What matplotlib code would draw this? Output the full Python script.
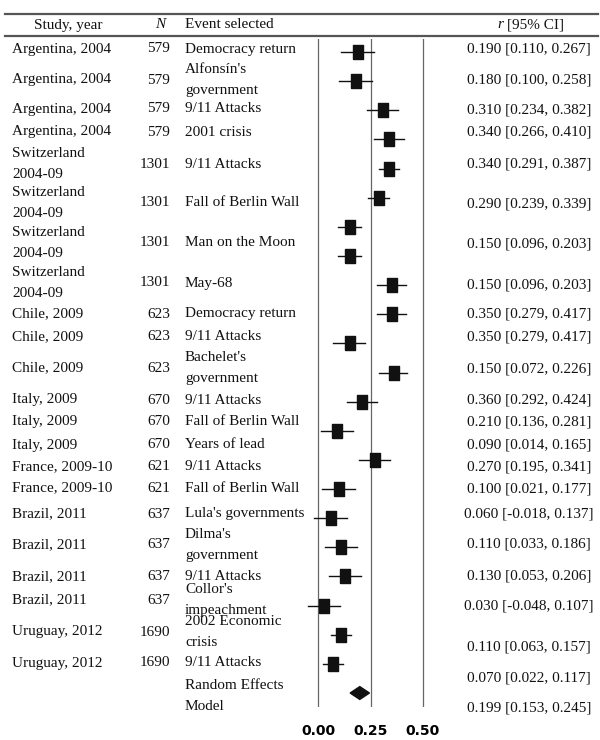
import matplotlib
matplotlib.use("Agg")
import matplotlib.pyplot as plt
from matplotlib.lines import Line2D
from matplotlib.patches import Polygon

studies = ["Argentina, 2004", "Argentina, 2004", "Argentina, 2004", "Argentina, 2004",
           "Switzerland\n2004-09", "Switzerland\n2004-09", "Switzerland\n2004-09", "Switzerland\n2004-09",
           "Chile, 2009", "Chile, 2009", "Chile, 2009",
           "Italy, 2009", "Italy, 2009", "Italy, 2009",
           "France, 2009-10", "France, 2009-10",
           "Brazil, 2011", "Brazil, 2011", "Brazil, 2011", "Brazil, 2011",
           "Uruguay, 2012", "Uruguay, 2012"]
n_size = [579, 579, 579, 579, 1301, 1301, 1301, 1301, 623, 623, 623,
          670, 670, 670, 621, 621, 637, 637, 637, 637, 1690, 1690]
events = ["Democracy return", "Alfonsín's\ngovernment", "9/11 Attacks", "2001 crisis",
          "9/11 Attacks", "Fall of Berlin Wall", "Man on the Moon", "May-68",
          "Democracy return", "9/11 Attacks", "Bachelet's\ngovernment",
          "9/11 Attacks", "Fall of Berlin Wall", "Years of lead",
          "9/11 Attacks", "Fall of Berlin Wall",
          "Lula's governments", "Dilma's\ngovernment", "9/11 Attacks", "Collor's\nimpeachment",
          "2002 Economic\ncrisis", "9/11 Attacks"]
r = [0.190, 0.180, 0.310, 0.340, 0.340, 0.290, 0.150, 0.150, 0.350, 0.350, 0.150,
     0.360, 0.210, 0.090, 0.270, 0.100, 0.060, 0.110, 0.130, 0.030, 0.110, 0.070]
lo = [0.110, 0.100, 0.234, 0.266, 0.291, 0.239, 0.096, 0.096, 0.279, 0.279, 0.072,
      0.292, 0.136, 0.014, 0.195, 0.021, -0.018, 0.033, 0.053, -0.048, 0.063, 0.022]
hi = [0.267, 0.258, 0.382, 0.410, 0.387, 0.339, 0.203, 0.203, 0.417, 0.417, 0.226,
      0.424, 0.281, 0.165, 0.341, 0.177, 0.137, 0.186, 0.206, 0.107, 0.157, 0.117]
re_label = "Random Effects\nModel"
re_r, re_lo, re_hi = 0.199, 0.153, 0.245
ticks = [0.0, 0.25, 0.50]
tick_labels = ["0.00", "0.25", "0.50"]

# pixel layout of the text table (y from top)
left_y = [49, 80, 109, 132, 164, 203, 243, 283, 314, 337, 368, 400, 422, 445, 467, 488,
          514, 545, 577, 600, 632, 663]
re_y = 696
right_y = [49, 80, 110, 132, 164, 204, 244, 285, 314, 337, 369, 400, 422, 445, 467, 489,
           514, 544, 576, 606, 647, 678, 708]

W, H = 600, 740
serif = ["Liberation Serif", "DejaVu Serif"]
fs = 11

fig = plt.figure(figsize=(6, 7.4), dpi=100)


def fx(x):
    return x / W


def fy(y):
    return 1 - y / H


def txt(x, y, s, ha="left", **kw):
    fig.text(fx(x), fy(y), s, ha=ha, va="center", family=serif, fontsize=fs,
             linespacing=1.8, color="#111111", **kw)


# rules
for yy in [14, 36]:
    fig.add_artist(Line2D([fx(5), fx(598)], [fy(yy), fy(yy)], color="#555555", lw=1.6))

# header
txt(68, 25, "Study, year", ha="center")
txt(160, 25, "N", ha="center", style="italic")
txt(185, 25, "Event selected")
txt(503, 25, "r", ha="right", style="italic")
txt(507, 25, "[95% CI]")

for i in range(len(studies)):
    txt(12, left_y[i], studies[i])
    txt(170, left_y[i], str(n_size[i]), ha="right")
    txt(185, left_y[i], events[i])
    txt(529, right_y[i], f"{r[i]:.3f} [{lo[i]:.3f}, {hi[i]:.3f}]", ha="center")
txt(185, re_y, re_label)
txt(529, right_y[-1], f"{re_r:.3f} [{re_lo:.3f}, {re_hi:.3f}]", ha="center")

# forest axes
ax = fig.add_axes([fx(300), fy(707), 140 / W, 668 / H])
ax.set_xlim(-18 / 210, 122 / 210)
ax.set_ylim(22.48, -0.446)
for v in ticks:
    ax.axvline(v, color="#666666", lw=0.9)

rect = [(-1, -1.35), (1, -1.35), (1, 1.35), (-1, 1.35), (-1, -1.35)]
for i in range(len(r)):
    ax.plot([lo[i], hi[i]], [i, i], color="#111111", lw=1.0)
    ax.plot(r[i], i, marker=rect, markersize=9.5, color="#111111", lw=0)

k = len(r)
ax.add_patch(Polygon([(re_lo, k), (re_r, k - 0.22), (re_hi, k), (re_r, k + 0.22)],
                     closed=True, color="#111111"))

for s in ax.spines.values():
    s.set_visible(False)
ax.set_yticks([])
ax.set_xticks(ticks)
ax.set_xticklabels(tick_labels, family="DejaVu Sans", fontweight="bold", fontsize=10)
ax.tick_params(axis="x", length=0, pad=12)

fig.savefig("out.png", dpi=100)
